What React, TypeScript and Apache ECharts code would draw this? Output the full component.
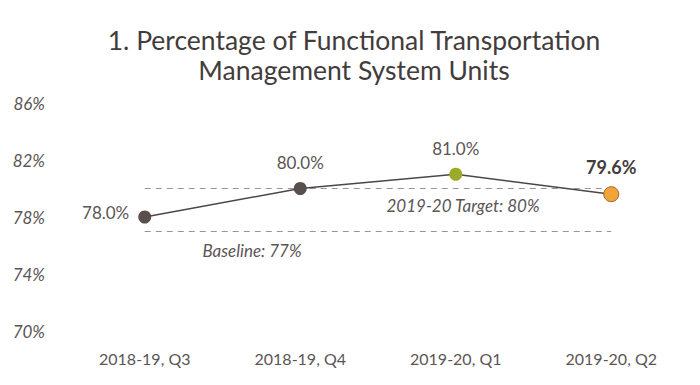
import React, { useEffect, useRef } from "react";
import * as echarts from "echarts";

const categories = ["2018-19, Q3", "2018-19, Q4", "2019-20, Q1", "2019-20, Q2"];
const values = [78.0, 80.0, 81.0, 79.6];
const pointColors = ["#5a4f4f", "#5a4f4f", "#9aab2c", "#f2a33a"];
const targetValue = 80;
const baselineValue = 77;
const yMin = 70;
const yMax = 86;
const yInterval = 4;

const FONT = "Lato";
const TEXT = "#5b5555";

export default function App() {
  const ref = useRef<HTMLDivElement>(null);
  useEffect(() => {
    if (!ref.current) return;
    const chart = echarts.init(ref.current, null, { renderer: "svg" });
    const last = values.length - 1;
    chart.setOption({
      animation: false,
      title: {
        text: "1. Percentage of Functional Transportation\nManagement System Units",
        left: "center",
        top: 12,
        textStyle: { fontFamily: FONT, fontSize: 26.5, fontWeight: "normal", color: "#433c3c", lineHeight: 30 },
      },
      grid: { left: 59, right: 11, top: 95, bottom: 54 },
      xAxis: {
        type: "category",
        data: categories,
        boundaryGap: true,
        axisLine: { show: false },
        axisTick: { show: false },
        axisLabel: { fontFamily: FONT, fontSize: 16, color: TEXT, margin: 19 },
      },
      yAxis: {
        type: "value",
        min: yMin,
        max: yMax,
        interval: yInterval,
        splitLine: { show: false },
        axisLine: { show: false },
        axisTick: { show: false },
        axisLabel: {
          fontFamily: FONT,
          fontSize: 17,
          fontStyle: "italic",
          color: TEXT,
          margin: 22,
          formatter: (v: number) => v + "%",
        },
      },
      series: [
        {
          type: "line",
          data: values.map((v, i) => ({
            value: v,
            itemStyle: {
              color: pointColors[i],
              borderColor: i === last ? "#9a6a2a" : pointColors[i],
              borderWidth: i === last ? 1 : 0,
            },
            symbolSize: i === last ? 15 : 13,
            label:
              i === 0
                ? { position: "left", distance: 9, offset: [0, -5] }
                : i === last
                ? { fontWeight: "bold", fontSize: 18, color: "#433c3c", distance: 10 }
                : { position: "top", distance: 11 },
          })),
          symbol: "circle",
          lineStyle: { color: "#4f4546", width: 1.5 },
          label: {
            show: true,
            position: "top",
            fontFamily: FONT,
            fontSize: 17,
            color: TEXT,
            formatter: (p: any) => p.value.toFixed(1) + "%",
          },
          z: 5,
          markLine: {
            silent: true,
            symbol: "none",
            lineStyle: { type: [6, 5], color: "#9a9595", width: 1 },
            label: {
              fontFamily: FONT,
              fontSize: 17,
              fontStyle: "italic",
              color: TEXT,
            },
            data: [
              [
                { coord: [0, targetValue], label: { show: true, position: "insideMiddleBottom", formatter: "2019-20 Target: 80%", offset: [85, 3] } },
                { coord: [last, targetValue] },
              ],
              [
                { coord: [0, baselineValue], label: { show: true, position: "insideMiddleBottom", formatter: "Baseline: 77%", offset: [-126, 6] } },
                { coord: [last, baselineValue] },
              ],
            ],
          },
        },
      ],
    });
    return () => chart.dispose();
  }, []);
  return <div ref={ref} style={{ width: 692, height: 377 }} />;
}
